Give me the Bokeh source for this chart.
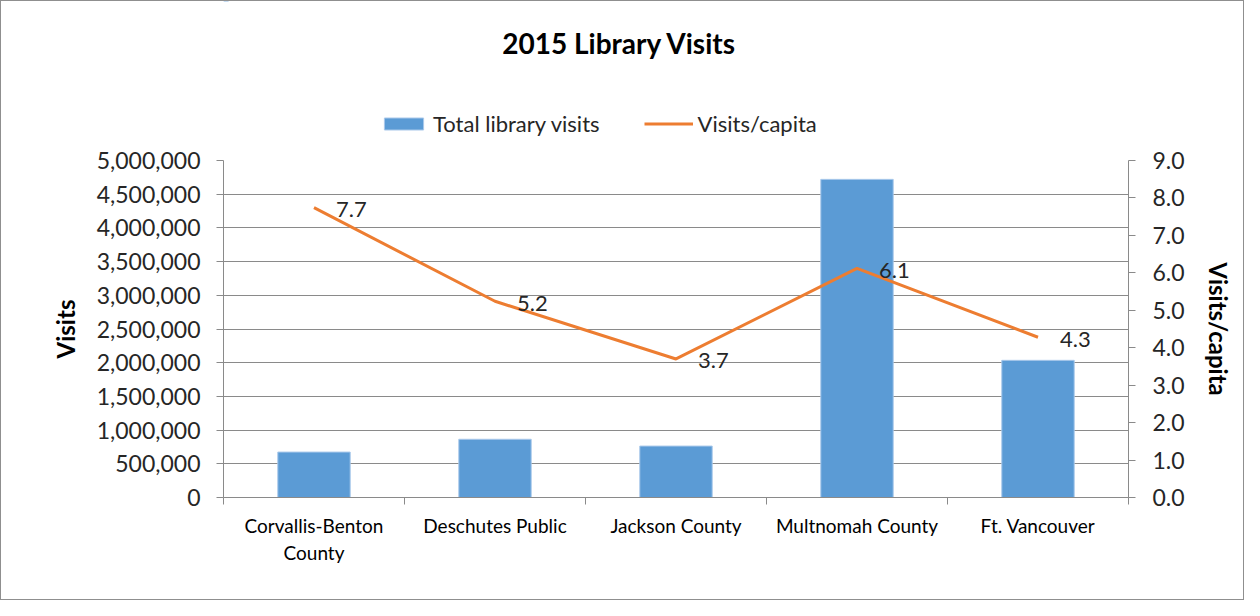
from bokeh.plotting import figure
from bokeh.layouts import column
from bokeh.models import (Range1d, LinearAxis, FixedTicker,
                          NumeralTickFormatter, Legend, LegendItem,
                          ColumnDataSource, LabelSet, Label)
from bokeh.core.properties import value
from bokeh.embed import file_html
from bokeh.resources import INLINE

# ---- data ----
categories = ["Corvallis-Benton\nCounty", "Deschutes Public", "Jackson County",
              "Multnomah County", "Ft. Vancouver"]
total_visits = [674000, 864000, 763000, 4720000, 2035000]
visits_per_capita = [7.74, 5.24, 3.70, 6.12, 4.28]
visits_ticks = [0, 500000, 1000000, 1500000, 2000000, 2500000, 3000000, 3500000, 4000000, 4500000, 5000000]
capita_ticks = [0, 1, 2, 3, 4, 5, 6, 7, 8, 9]
title_text = "2015 Library Visits"
bar_name = "Total library visits"
line_name = "Visits/capita"
left_label = "Visits"
right_label = "Visits/capita"

FONT = "Lato"
TXT = "#262626"
GRID = "#8a8a8a"
BAR = "#5B9BD5"
BAR_EDGE = "#a9c8ea"
LINE = "#ED7D31"

W = 1242
HEAD_H = 144
MAIN_H = 454
B_LEFT, B_RIGHT = 222, 115
FRAME_W = W - B_LEFT - B_RIGHT

n = len(categories)
centers = [i + 0.5 for i in range(n)]      # category slot centres
bounds = list(range(n + 1))                # category slot boundaries

src = ColumnDataSource(dict(
    x=centers,
    visits=total_visits,
    capita=visits_per_capita,
    lbl=["%.1f" % v for v in visits_per_capita],
))

# ---------------- header: title + legend ----------------
h = figure(width=W, height=HEAD_H, x_range=Range1d(0, FRAME_W), y_range=Range1d(0, HEAD_H),
           output_backend="svg", toolbar_location=None, tools="",
           x_axis_location=None, y_axis_location=None, min_border=0)
h.outline_line_color = None
h.xgrid.visible = False
h.ygrid.visible = False
h.background_fill_color = "white"
h.border_fill_color = "white"
# legend keys: same series, mapped onto a range that keeps them out of view
h.extra_y_ranges = {"off": Range1d(-2, -1)}
key_bar = h.vbar(x="x", top="visits", width=0.4, source=src, y_range_name="off",
                 fill_color=BAR, line_color=BAR_EDGE, line_width=1)
key_line = h.line(x="x", y="capita", source=src, y_range_name="off",
                  line_color=LINE, line_width=3)

h.add_layout(Label(x=618 - B_LEFT, y=103, text=title_text, text_align="center",
                   text_baseline="middle", text_font=FONT,
                   text_font_size="28px", text_font_style="bold", text_color="black"))

legend = Legend(items=[LegendItem(label=bar_name, renderers=[key_bar]),
                       LegendItem(label=line_name, renderers=[key_line])],
                orientation="horizontal", location=(378 - B_LEFT, 8),
                glyph_width=49, glyph_height=15, label_height=22,
                label_standoff=5, spacing=44, padding=0, margin=0,
                border_line_color=None, background_fill_alpha=0,
                label_text_font=FONT, label_text_font_size="22px",
                label_text_color=TXT)
h.add_layout(legend)

# ---------------- main chart ----------------
p = figure(width=W, height=MAIN_H,
           x_range=Range1d(0, n),
           y_range=Range1d(0, 5000000),
           output_backend="svg", toolbar_location=None, tools="",
           x_axis_location=None, y_axis_location=None,
           min_border_left=B_LEFT, min_border_right=B_RIGHT,
           min_border_top=15, min_border_bottom=102)
p.extra_y_ranges = {"capita": Range1d(0, 9)}
p.outline_line_color = None
p.background_fill_color = "white"
p.border_fill_color = "white"

bars = p.vbar(x="x", top="visits", width=0.4, source=src,
              fill_color=BAR, line_color=BAR_EDGE, line_width=1)
ln = p.line(x="x", y="capita", source=src, y_range_name="capita",
            line_color=LINE, line_width=3)

labels = LabelSet(x="x", y="capita", text="lbl", source=src, y_range_name="capita",
                  x_offset=22, y_offset=-2, text_align="left", text_baseline="middle",
                  text_font=value(FONT), text_font_size="22px", text_color=TXT)
p.add_layout(labels)

# left axis
yl = LinearAxis(ticker=FixedTicker(ticks=visits_ticks),
                formatter=NumeralTickFormatter(format="0,0"),
                axis_label=left_label)
yl.axis_line_color = GRID
yl.major_tick_line_color = GRID
yl.major_tick_out = 7
yl.major_tick_in = 0
yl.minor_tick_line_color = None
yl.major_label_standoff = 16
yl.major_label_text_font = FONT
yl.major_label_text_font_size = "23px"
yl.major_label_text_color = TXT
yl.axis_label_standoff = 14
yl.axis_label_text_font = FONT
yl.axis_label_text_font_size = "24px"
yl.axis_label_text_font_style = "bold"
yl.axis_label_text_color = "black"
p.add_layout(yl, "left")

# right axis
yr = LinearAxis(y_range_name="capita", ticker=FixedTicker(ticks=capita_ticks),
                formatter=NumeralTickFormatter(format="0.0"),
                axis_label=right_label)
yr.axis_line_color = GRID
yr.major_tick_line_color = GRID
yr.major_tick_out = 7
yr.major_tick_in = 0
yr.minor_tick_line_color = None
yr.major_label_standoff = 17
yr.major_label_text_font = FONT
yr.major_label_text_font_size = "23px"
yr.major_label_text_color = TXT
yr.axis_label_standoff = 16
yr.axis_label_text_font = FONT
yr.axis_label_text_font_size = "24px"
yr.axis_label_text_font_style = "bold"
yr.axis_label_text_color = "black"
p.add_layout(yr, "right")

# bottom: boundary ticks axis (no labels), then category labels axis
xb = LinearAxis(ticker=FixedTicker(ticks=bounds),
                major_label_overrides={b: "" for b in bounds})
xb.axis_line_color = GRID
xb.major_tick_line_color = GRID
xb.major_tick_out = 7
xb.major_tick_in = 0
xb.minor_tick_line_color = None
xb.major_label_standoff = 0
xb.major_label_text_font_size = "1px"
p.add_layout(xb, "below")

xc = LinearAxis(ticker=FixedTicker(ticks=centers),
                major_label_overrides={c: name for c, name in zip(centers, categories)})
xc.axis_line_color = None
xc.major_tick_line_color = None
xc.minor_tick_line_color = None
xc.major_label_standoff = 3
xc.major_label_text_font = FONT
xc.major_label_text_font_size = "19px"
xc.major_label_text_color = "black"
p.add_layout(xc, "below")

p.xgrid.visible = False
p.ygrid.ticker = FixedTicker(ticks=visits_ticks)
p.ygrid.grid_line_color = GRID
p.ygrid.grid_line_width = 1

layout = column(h, p, spacing=0)
layout.styles = {"border": "1px solid #8f8f8f"}

open("out.html", "w").write(file_html(layout, INLINE))
